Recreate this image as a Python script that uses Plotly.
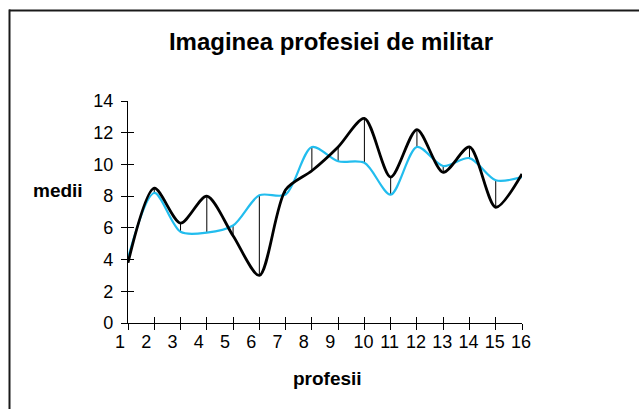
import plotly.graph_objects as go

categories = list(range(1, 17))
tick_labels = [str(c) for c in categories]
series_black = [3.8, 8.5, 6.3, 8.0, 5.5, 3.0, 8.4, 9.6, 11.1, 12.9, 9.2, 12.2, 9.5, 11.1, 7.3, 9.4]
series_cyan = [4.1, 8.2, 5.75, 5.7, 6.15, 8.05, 8.1, 11.1, 10.2, 10.1, 8.1, 11.1, 9.9, 10.4, 9.0, 9.2]
y_ticks = [0, 2, 4, 6, 8, 10, 12, 14]

W, H = 639, 409
L, R, T, B = 128, 117, 101, 86
pw, ph = W - L - R, H - T - B

def px_x(p):
    return (p - L) / pw

def px_y(p):
    return (H - B - p) / ph

FONT = "Liberation Sans, Arial, sans-serif"

# high-low lines built from the data
hl_x, hl_y = [], []
for c, b, s in zip(categories, series_black, series_cyan):
    hl_x += [c, c, None]
    hl_y += [b, s, None]

fig = go.Figure()
fig.add_trace(go.Scatter(x=hl_x, y=hl_y, mode="lines",
                         line=dict(color="black", width=1), hoverinfo="skip", showlegend=False))
fig.add_trace(go.Scatter(x=categories, y=series_cyan, mode="lines",
                         line=dict(color="#22BDEE", width=2.2, shape="spline", smoothing=0.85),
                         showlegend=False))
fig.add_trace(go.Scatter(x=categories, y=series_black, mode="lines",
                         line=dict(color="black", width=2.8, shape="spline", smoothing=0.8),
                         showlegend=False))
# dummy traces for overlay axes
fig.add_trace(go.Scatter(x=[None], y=[None], xaxis="x2", yaxis="y", showlegend=False, hoverinfo="skip"))
fig.add_trace(go.Scatter(x=[None], y=[None], xaxis="x3", yaxis="y2", showlegend=False, hoverinfo="skip"))

single = [c for c in categories if c < 10]
double = [c for c in categories if c >= 10]

axis_common = dict(range=[1, 16], showgrid=False, zeroline=False, fixedrange=True)
fig.update_layout(
    width=W, height=H,
    margin=dict(l=L, r=R, t=T, b=B),
    paper_bgcolor="white", plot_bgcolor="white",
    font=dict(family=FONT, color="black", size=18),
    showlegend=False,
    title=dict(text="<b>Imaginea profesiei de militar</b>", x=331 / W, xref="container",
               xanchor="center", y=1 - 42 / H, yref="container", yanchor="middle",
               font=dict(size=24, family=FONT, color="black")),
    xaxis=dict(**axis_common, tickmode="array", tickvals=single,
               ticktext=[tick_labels[c - 1] for c in single],
               ticks="outside", ticklen=6, tickcolor="black", tickwidth=1,
               showline=True, linecolor="black", linewidth=1.3,
               ticklabelshift=-8, ticklabelstandoff=-4,
               tickfont=dict(size=18, family=FONT)),
    xaxis2=dict(**axis_common, overlaying="x", anchor="y", tickmode="array", tickvals=double,
                ticktext=[tick_labels[c - 1] for c in double],
                ticks="outside", ticklen=6, tickcolor="black", tickwidth=1,
                showline=False, ticklabelshift=-1, ticklabelstandoff=-4,
                tickfont=dict(size=18, family=FONT)),
    xaxis3=dict(**axis_common, overlaying="x", anchor="y", tickmode="array", tickvals=categories,
                showticklabels=False, ticks="inside", ticklen=6, tickcolor="black", tickwidth=1,
                showline=False),
    yaxis=dict(range=[0, 14], showgrid=False, zeroline=False, fixedrange=True,
               tickmode="array", tickvals=y_ticks, ticktext=[str(v) for v in y_ticks],
               ticks="outside", ticklen=6, tickcolor="black", tickwidth=1,
               showline=True, linecolor="black", linewidth=1.3,
               ticklabelstandoff=4, tickfont=dict(size=18, family=FONT)),
    yaxis2=dict(range=[0, 14], overlaying="y", anchor="x", showgrid=False, zeroline=False,
                fixedrange=True, tickmode="array", tickvals=y_ticks, showticklabels=False,
                ticks="inside", ticklen=6, tickcolor="black", tickwidth=1, showline=False),
    annotations=[
        dict(text="<b>profesii</b>", x=px_x(327), y=px_y(378), xref="paper", yref="paper",
             showarrow=False, xanchor="center", yanchor="middle",
             font=dict(size=19, family=FONT, color="black")),
        dict(text="<b>medii</b>", x=px_x(58), y=px_y(190), xref="paper", yref="paper",
             showarrow=False, xanchor="center", yanchor="middle",
             font=dict(size=19, family=FONT, color="black")),
    ],
    shapes=[
        dict(type="line", xref="paper", yref="paper", x0=px_x(9), x1=px_x(650),
             y0=px_y(10.5), y1=px_y(10.5), line=dict(color="#1a1a1a", width=2)),
        dict(type="line", xref="paper", yref="paper", x0=px_x(9.5), x1=px_x(9.5),
             y0=px_y(9.5), y1=px_y(430), line=dict(color="#1a1a1a", width=2)),
    ],
)

fig.write_html("out.html", config={"displayModeBar": False},
               post_script="document.body.style.margin='0';document.body.style.overflow='hidden';")
